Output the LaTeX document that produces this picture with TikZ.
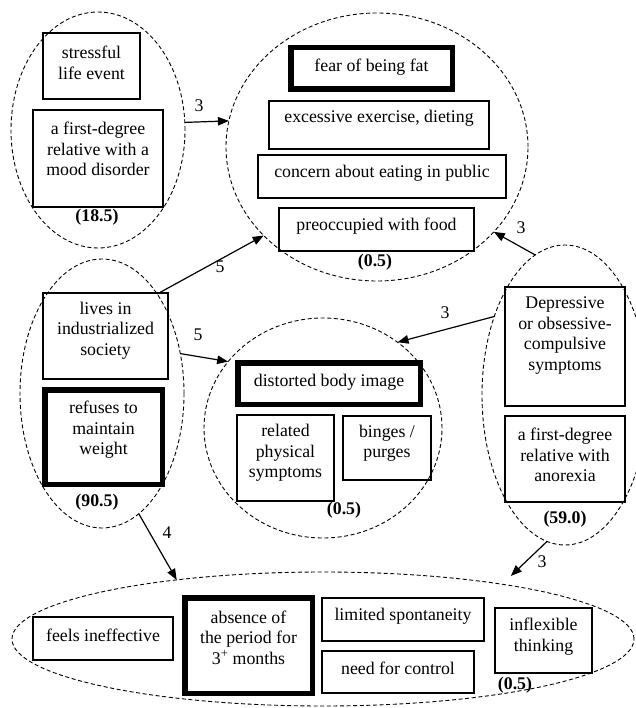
\documentclass[tikz,border=0pt]{standalone}
\usepackage{fontspec}
\setmainfont{Liberation Serif}
\usetikzlibrary{shapes.geometric,arrows.meta,fit}
\tikzset{
  group/.style={draw, dash pattern=on 4pt off 2.6pt, line width=0.9pt, ellipse,
                inner sep=0pt, outer sep=0pt},
  item/.style={draw, line width=1.2pt, rectangle, inner sep=0pt, outer sep=0pt},
  core/.style={draw, line width=5.5pt, rectangle, inner sep=0pt, outer sep=0pt},
  txt/.style={align=center, inner sep=0pt, font=\fontsize{17.8}{20.5}\selectfont},
  score/.style={inner sep=0pt, font=\fontsize{17.8}{20.5}\selectfont\bfseries},
  wt/.style={inner sep=0pt, font=\fontsize{17.8}{20.5}\selectfont},
  link/.style={line width=1.2pt, -{Triangle[length=11pt,width=8.5pt]}},
}
\begin{document}
\begin{tikzpicture}[x=1pt,y=-1pt]
\useasboundingbox (0,0) rectangle (635,708);

% ---- dashed clusters ----
\node[group, minimum width=174pt, minimum height=236pt] (E1) at (98,130) {};
\node[group, minimum width=302pt, minimum height=268pt] (E2) at (377,147) {};
\node[group, minimum width=164pt, minimum height=269pt] (E3) at (102,393.5) {};
\node[group, minimum width=238pt, minimum height=220pt] (E4) at (323,428) {};
\node[group, minimum width=166pt, minimum height=300pt] (E5) at (565,395) {};
\node[group, minimum width=622pt, minimum height=134pt] (E6) at (323,639) {};

% ---- cluster 1: risk factors ----
\node[item, fit={(43,33) (140,99)}] (stress) {};
\node[txt] (stress-t) at (91.5,63) {stressful\\life event};
\node[item, fit={(33,110) (163,207)}] (mood) {};
\node[txt] (mood-t) at (98,149) {a first-degree\\relative with a\\mood disorder};
\node[score] (s1) at (97,217) {(18.5)};

% ---- cluster 2: attitudes to food ----
\node[core, fit={(290.75,47.75) (452.25,89.25)}] (fear) {};
\node[txt] (fear-t) at (371.5,67) {fear of being fat};
\node[item, fit={(269,101) (489,149)}] (exer) {};
\node[txt] (exer-t) at (379,118) {excessive exercise, dieting};
\node[item, fit={(258,155) (506,198)}] (concern) {};
\node[txt] (concern-t) at (382,173) {concern about eating in public};
\node[item, fit={(279,208) (474,251)}] (preocc) {};
\node[txt] (preocc-t) at (376.5,226) {preoccupied with food};
\node[score] (s2) at (375,262) {(0.5)};

% ---- cluster 3 ----
\node[item, fit={(43,293) (168,379)}] (lives) {};
\node[txt] (lives-t) at (105.5,330.5) {lives in\\industrialized\\society};
\node[core, fit={(44.75,389.75) (162.25,484.25)}] (refuse) {};
\node[txt] (refuse-t) at (103.5,430) {refuses to\\maintain\\weight};
\node[score] (s3) at (97,502) {(90.5)};

% ---- cluster 4 ----
\node[core, fit={(237.75,362.75) (420.25,404.25)}] (dist) {};
\node[txt] (dist-t) at (329,382) {distorted body image};
\node[item, fit={(237,415) (334,501)}] (phys) {};
\node[txt] (phys-t) at (285.5,453) {related\\physical\\symptoms};
\node[item, fit={(343,416) (431,480)}] (binge) {};
\node[txt] (binge-t) at (387,443) {binges /\\purges};
\node[score] (s4) at (344,510) {(0.5)};

% ---- cluster 5 ----
\node[item, fit={(505,287) (625,406)}] (dep) {};
\node[txt] (dep-t) at (565,335.5) {Depressive\\or obsessive-\\compulsive\\symptoms};
\node[item, fit={(505,416) (625,502)}] (anor) {};
\node[txt] (anor-t) at (565,455) {a first-degree\\relative with\\anorexia};
\node[score] (s5) at (565,519) {(59.0)};

% ---- cluster 6 ----
\node[item, fit={(33,617) (173,660)}] (feels) {};
\node[txt] (feels-t) at (103,635) {feels ineffective};
\node[core, fit={(184.75,597.75) (312.25,693.25)}] (absence) {};
\node[txt] (absence-t) at (248.5,637.5) {absence of\\the period for\\3\textsuperscript{+} months};
\node[item, fit={(322,598) (484,641)}] (limited) {};
\node[txt] (limited-t) at (403,616) {limited spontaneity};
\node[item, fit={(322,651) (474,693)}] (need) {};
\node[txt] (need-t) at (398,668) {need for control};
\node[item, fit={(495,608) (592,673)}] (inflex) {};
\node[txt] (inflex-t) at (543.5,636.5) {inflexible\\thinking};
\node[score] (s6) at (515,685) {(0.5)};

% ---- weighted links between clusters ----
\draw[link] (E1.5) -- (E2.170);
\node[wt] (w1) at (199,106) {3};
\draw[link] (E3.61) -- (E2.218);
\node[wt] (w2) at (220,267) {5};
\draw[link] (E5.102.9) -- (E2.324.1);
\node[wt] (w3) at (521,228) {3};
\draw[link] (E5.132.6) -- (E4.49.2);
\node[wt] (w4) at (445,313) {3};
\draw[link] (E3.27.7) -- (E4.145.1);
\node[wt] (w5) at (198,335) {5};
\draw[link] (E3.287.8) -- (E6.158.5);
\node[wt] (w6) at (167,533) {4};
\draw[link, shorten >=12pt] (E5.263.5) -- (E6.17.7);
\node[wt] (w7) at (542,562) {3};
\end{tikzpicture}
\end{document}
